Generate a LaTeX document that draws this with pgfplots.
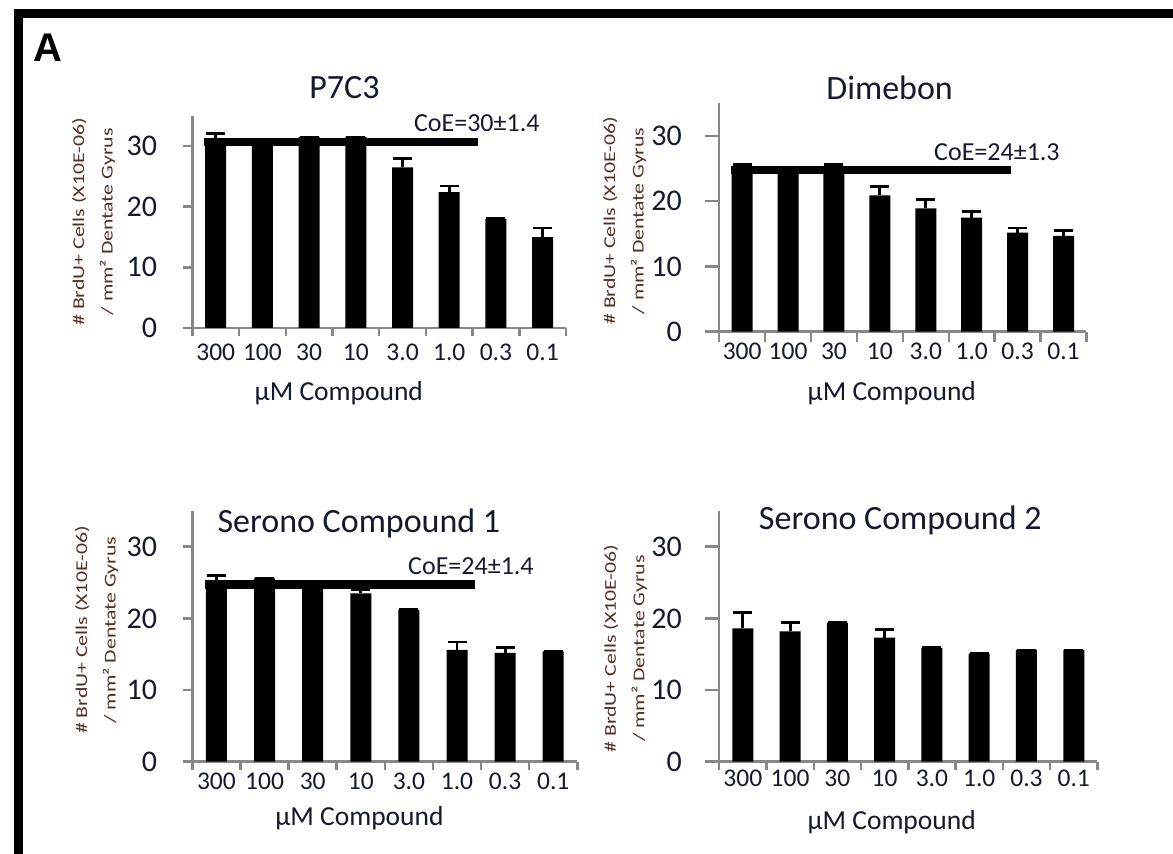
\documentclass[border=0pt]{standalone}
\usepackage{pgfplots}
\pgfplotsset{compat=1.18}
\usepackage{fontspec}
\setmainfont{Carlito}
\newfontfamily\arialfont{Liberation Sans}
\definecolor{txt}{RGB}{20,25,45}
\definecolor{ylab}{RGB}{85,45,35}
\definecolor{axc}{RGB}{135,135,135}
\tikzset{coetext/.style={font=\fontsize{13}{14}\selectfont, text=txt}}
\pgfplotsset{
 panel/.style={
  scale only axis, anchor=south west,
  ymin=0, ymax=35, xmin=-0.5, xmax=7.5,
  axis x line=bottom, axis y line=left,
  axis line style={-, axc, line width=1.25pt},
  tick style={axc, line width=1.25pt},
  tick align=outside,
  ytick={0,10,20,30},
  xtick={0,...,7},
  xticklabels={300,100,30,10,3.0,1.0,0.3,0.1},
  minor xtick={-0.5,0.5,...,7.5},
  every major x tick/.append style={draw=none},
  bar width=10.5pt,
  clip=false,
  /pgf/number format/assume math mode=true,
  yticklabel style={font=\fontsize{15}{16}\selectfont, text=txt, anchor=east, inner sep=0pt},
  xticklabel style={font=\fontsize{12.75}{13}\selectfont, text=txt, anchor=center},
  every axis title/.style={at={(0.5,1)}, anchor=center, font=\fontsize{17}{18}\selectfont, text=txt},
  xlabel style={font=\fontsize{13.75}{15}\selectfont, text=txt, anchor=center},
  ylabel style={font=\fontsize{8.25}{14.25}\selectfont, text=ylab, anchor=center, align=center, xscale=1.32},
  ylabel={\# BrdU+ Cells (X10E-06)\\/ mm² Dentate Gyrus},
  xlabel={μM Compound},
 },
 bars/.style={ybar, fill=black, draw=none,
  error bars/.cd, y dir=plus, y explicit, error mark=|,
  error bar style={black, line width=1.4pt},
  error mark options={black, line width=1.4pt, mark size=4.75pt}},
 coe/.style={sharp plot, black, line width=4.25pt, no markers, forget plot},
}
\begin{document}
\begin{tikzpicture}
\path[use as bounding box] (0,0) rectangle (586.5pt,426.5pt);
% frame
\draw[line width=4.5pt, line join=miter] (9.2pt,-2pt) -- (9.2pt,419.85pt) -- (590pt,419.85pt);
\node[font=\arialfont\bfseries\fontsize{20}{22}\selectfont, inner sep=0pt] at (23.9pt,402.75pt) {A};

% Panel 1: P7C3
\begin{axis}[panel, at={(96.2pt,262.5pt)}, width=186.8pt, height=106.15pt,
  major tick length=4.8pt, minor tick length=4pt,
  yticklabel style={xshift=-12.7pt},
  xticklabel style={yshift=-7.2pt},
  title={P7C3}, title style={at={(axis description cs:0.407,1.131)}},
  xlabel style={at={(axis description cs:0.392,-0.306)}},
  ylabel style={at={(axis description cs:-0.2646,0.5)}}]
\addplot[bars] coordinates {
 (0,31.0) +- (0,1.1)
 (1,30.3) +- (0,0)
 (2,31.5) +- (0,0)
 (3,31.5) +- (0,0)
 (4,26.5) +- (0,1.5)
 (5,22.4) +- (0,1.0)
 (6,18.0) +- (0,0)
 (7,15.0) +- (0,1.5)};
\addplot[coe] coordinates {(-0.26,30.66) (5.61,30.66)};
\node[coetext] at (axis cs:5.59,33.8) {CoE=30±1.4};
\end{axis}

% Panel 2: Dimebon
\begin{axis}[panel, at={(359.6pt,260.65pt)}, width=183.65pt, height=114.2pt,
  major tick length=7pt, minor tick length=5pt,
  yticklabel style={xshift=-11.5pt},
  xticklabel style={yshift=-3pt},
  title={Dimebon}, title style={at={(axis description cs:0.464,1.0675)}},
  xlabel style={at={(axis description cs:0.470,-0.2686)}},
  ylabel style={at={(axis description cs:-0.2576,0.485)}}]
\addplot[bars] coordinates {
 (0,24.8) +- (0,0.8)
 (1,24.5) +- (0,0)
 (2,25.4) +- (0,0.2)
 (3,20.9) +- (0,1.4)
 (4,18.9) +- (0,1.4)
 (5,17.5) +- (0,0.9)
 (6,15.2) +- (0,0.7)
 (7,14.7) +- (0,0.8)};
\addplot[coe] coordinates {(-0.25,24.79) (5.86,24.79)};
\node[coetext] at (axis cs:5.55,27.44) {CoE=24±1.3};
\end{axis}

% Panel 3: Serono Compound 1
\begin{axis}[panel, at={(96.2pt,45.65pt)}, width=192.45pt, height=125.4pt,
  major tick length=4.8pt, minor tick length=4pt,
  yticklabel style={xshift=-12.7pt},
  xticklabel style={yshift=-5.2pt},
  title={Serono Compound 1}, title style={at={(axis description cs:0.4326,0.950)}},
  xlabel style={at={(axis description cs:0.434,-0.2245)}},
  ylabel style={at={(axis description cs:-0.249,0.525)}}]
\addplot[bars] coordinates {
 (0,25.1) +- (0,0.9)
 (1,25.6) +- (0,0)
 (2,24.5) +- (0,0)
 (3,23.5) +- (0,0.5)
 (4,21.2) +- (0,0)
 (5,15.6) +- (0,1.1)
 (6,15.2) +- (0,0.7)
 (7,15.4) +- (0,0)};
\addplot[coe] coordinates {(-0.24,24.7) (5.37,24.7)};
\node[coetext] at (axis cs:5.29,27.3) {CoE=24±1.4};
\end{axis}

% Panel 4: Serono Compound 2
\begin{axis}[panel, at={(359.6pt,45.65pt)}, width=189.1pt, height=125.4pt,
  major tick length=7pt, minor tick length=4pt,
  yticklabel style={xshift=-11.5pt},
  xticklabel style={yshift=-1.25pt},
  title={Serono Compound 2}, title style={at={(axis description cs:0.479,0.963)}},
  xlabel style={at={(axis description cs:0.456,-0.240)}},
  ylabel style={at={(axis description cs:-0.248,0.451)}}]
\addplot[bars] coordinates {
 (0,18.6) +- (0,2.2)
 (1,18.2) +- (0,1.2)
 (2,19.4) +- (0,0)
 (3,17.3) +- (0,1.2)
 (4,15.9) +- (0,0)
 (5,15.1) +- (0,0)
 (6,15.6) +- (0,0)
 (7,15.6) +- (0,0)};
\end{axis}
\end{tikzpicture}
\end{document}
